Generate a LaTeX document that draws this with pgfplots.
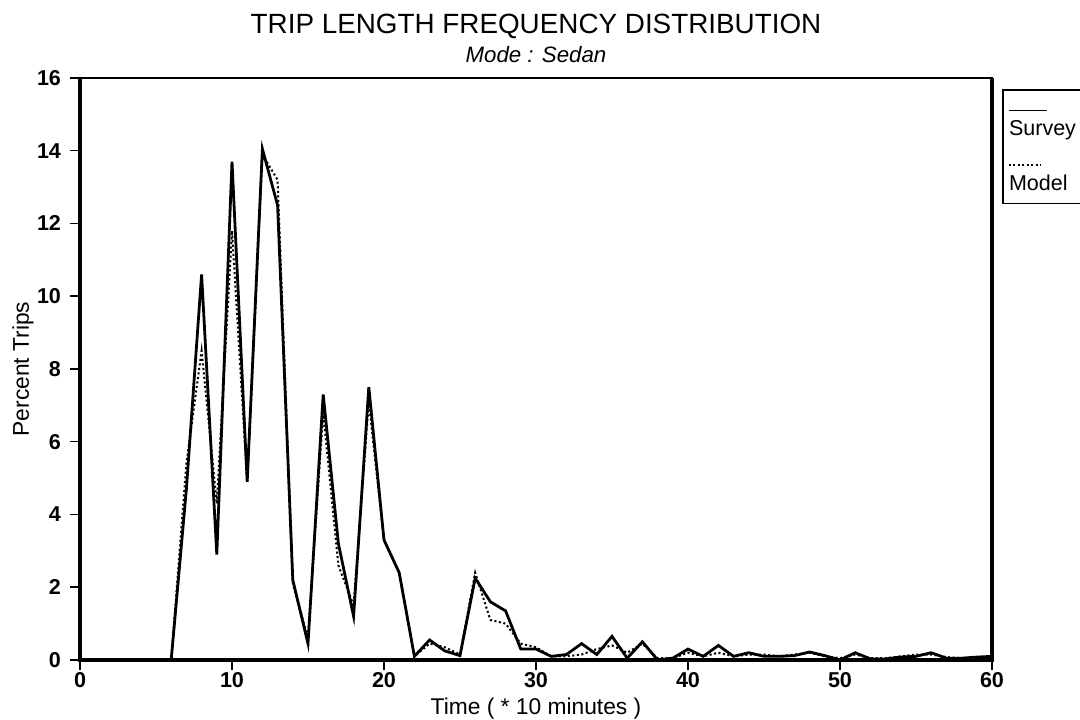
\documentclass[border=0pt]{standalone}
\usepackage{pgfplots}
\usepackage{pgfplotstable}
\pgfplotsset{compat=1.18}
\usepackage{fontspec}
\setmainfont{Liberation Sans}

\pgfplotstableread{
x y
6 0
7 4.7
8 10.6
9 2.9
10 13.7
11 4.9
12 14.05
13 12.5
14 2.2
15 0.45
16 7.3
17 3.2
18 1.2
19 7.5
20 3.3
21 2.4
22 0.1
23 0.55
24 0.25
25 0.12
26 2.25
27 1.6
28 1.35
29 0.3
30 0.3
31 0.1
32 0.15
33 0.45
34 0.15
35 0.65
36 0.05
37 0.5
38 0.0
39 0.05
40 0.3
41 0.1
42 0.4
43 0.1
44 0.2
45 0.1
46 0.1
47 0.12
48 0.22
49 0.12
50 0.0
51 0.2
52 0.03
53 0.03
54 0.08
55 0.1
56 0.2
57 0.05
58 0.05
59 0.08
60 0.1
}\survey

\pgfplotstableread{
x y
6 0
7 5.4
8 8.5
9 4.3
10 11.8
11 4.9
12 13.9
13 13.2
14 2.1
15 0.6
16 6.8
17 2.6
18 1.5
19 7.1
20 3.3
21 2.4
22 0.1
23 0.45
24 0.35
25 0.15
26 2.4
27 1.1
28 1.0
29 0.45
30 0.35
31 0.1
32 0.1
33 0.15
34 0.3
35 0.4
36 0.2
37 0.45
38 0.05
39 0.05
40 0.2
41 0.1
42 0.2
43 0.1
44 0.15
45 0.15
46 0.1
47 0.15
48 0.2
49 0.1
50 0.05
51 0.15
52 0.05
53 0.05
54 0.1
55 0.15
56 0.15
57 0.08
58 0.05
59 0.05
60 0.05
}\model

\begin{document}
\begin{tikzpicture}
\path[use as bounding box] (-1.1111cm,-0.8333cm) rectangle (13.8889cm,9.1667cm);
\begin{axis}[
  name=ax,
  scale only axis,
  width=12.6667cm, height=8.0833cm,
  xmin=0, xmax=60, ymin=0, ymax=16,
  xtick={0,10,...,60}, ytick={0,2,...,16},
  xtick pos=bottom, ytick pos=left,
  tick align=outside,
  major tick length=4pt,
  tick style={black, line width=0.6pt},
  axis line style={black, line width=0.5pt},
  /pgf/number format/assume math mode=true,
  tick label style={font=\fontsize{8.5}{10}\selectfont\bfseries},
  xticklabel style={yshift=2.5pt},
  xlabel={Time ( * 10 minutes )},
  ylabel={Percent Trips},
  label style={font=\fontsize{9}{11}\selectfont},
  xlabel style={at={(axis description cs:0.5,-0.083)}, anchor=center},
  ylabel style={at={(axis description cs:-0.0625,0.5)}, anchor=center},
  clip=false,
]
\addplot[black, line width=0.8pt, densely dotted] table[x=x,y=y] {\model};
\addplot[black, line width=1.1pt] table[x=x,y=y] {\survey};
\draw[line width=1.3pt] (rel axis cs:0,1) -- (rel axis cs:0,0) -- (rel axis cs:1,0) -- (rel axis cs:1,1);
\end{axis}
% titles
\node[font=\fontsize{11}{13}\selectfont, anchor=center] at ([yshift=0.72cm]ax.north) {TRIP LENGTH FREQUENCY DISTRIBUTION};
\node[font=\fontsize{8.8}{11}\selectfont\itshape, anchor=center] at ([yshift=0.32cm]ax.north) {Mode : Sedan};
% legend box
\coordinate (L) at ([xshift=0.15cm, yshift=-0.17cm]ax.north east);
\draw[line width=0.6pt] (L) rectangle ([xshift=2.5cm, yshift=-1.57cm]L);
\draw[line width=0.7pt] ([xshift=0.08cm, yshift=-0.28cm]L) -- ([xshift=0.62cm, yshift=-0.28cm]L);
\node[anchor=west, inner sep=0pt, font=\fontsize{8.5}{10}\selectfont] at ([xshift=0.08cm, yshift=-0.56cm]L) {Survey};
\draw[line width=0.8pt, densely dotted] ([xshift=0.08cm, yshift=-1.04cm]L) -- ([xshift=0.53cm, yshift=-1.04cm]L);
\node[anchor=west, inner sep=0pt, font=\fontsize{8.5}{10}\selectfont] at ([xshift=0.08cm, yshift=-1.29cm]L) {Model};
\end{tikzpicture}
\end{document}
